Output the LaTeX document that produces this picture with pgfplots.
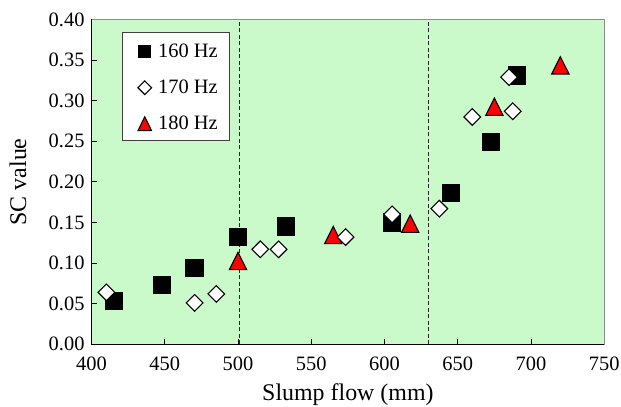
\documentclass[border=0pt]{standalone}
\usepackage{fontspec}
\setmainfont{Liberation Serif}
\usepackage{pgfplots}
\pgfplotsset{compat=1.18}
\definecolor{bgreen}{HTML}{CAFACA}
\definecolor{frame}{HTML}{8C8C8C}

% legend markers are a bit smaller than the plotted ones
\pgfplotsset{
  sqmark/.style={mark=square*, mark size=8.65bp, mark options={fill=black, draw=black, line width=1bp}},
  dimark/.style={mark=square*, mark size=5.9bp, mark options={fill=white, draw=black, line width=1.1bp, rotate=45}},
  trmark/.style={mark=triangle*, mark size=10bp, mark options={fill=red, draw=black, line width=1.1bp, yscale=1.15}},
}

\begin{document}
\begin{tikzpicture}
\begin{axis}[
  scale only axis, width=512.8bp, height=324.8bp,
  xmin=400, xmax=750, ymin=0, ymax=0.40,
  xtick={400,450,...,750}, ytick={0,0.05,...,0.40},
  yticklabel style={/pgf/number format/fixed, /pgf/number format/fixed zerofill, /pgf/number format/precision=2},
  /pgf/number format/assume math mode=true,
  tick label style={font=\fontsize{20.5}{24}\selectfont},
  xticklabel style={yshift=-9bp},
  yticklabel style={xshift=-3.5bp},
  tick align=inside, major tick length=5.5bp,
  tick style={black, line width=1bp},
  xtick pos=bottom, ytick pos=left,
  axis background/.style={fill=bgreen},
  axis line style={frame, line width=0.8bp},
  xlabel={Slump flow (mm)}, ylabel={SC value},
  label style={font=\fontsize{24}{28}\selectfont},
  xlabel style={at={(axis description cs:0.5,-0.174)}, anchor=base},
  ylabel style={at={(axis description cs:-0.1277,0.5)}, anchor=base},
  legend style={at={(axis description cs:0.0604,0.963)}, anchor=north west,
    draw=black!75, line width=0.8bp, fill=white,
    font=\fontsize{20.5}{24}\selectfont,
    inner xsep=12bp, inner ysep=9bp, row sep=18.2bp,
    nodes={inner sep=0pt, text height=16.3bp, text depth=1.3bp}},
  /tikz/every odd column/.append style={column sep=5.5bp},
]
% dashed dividers
\addplot[black!85, line width=0.8bp, dash pattern=on 4bp off 2.5bp, forget plot] coordinates {(501,0) (501,0.40)};
\addplot[black!85, line width=0.8bp, dash pattern=on 4bp off 2.5bp, forget plot] coordinates {(630,0) (630,0.40)};

\addlegendimage{legend image code/.code={
  \path (-9.5bp,0) (7.5bp,0);
  \draw[black, fill=black, line width=1bp] (-6.15bp,-8.2bp) rectangle (6.15bp,4.1bp);}}
\addlegendentry{160 Hz}
\addlegendimage{legend image code/.code={
  \path (-9.5bp,0) (7.5bp,0);
  \draw[black, fill=white, line width=1.1bp] (0,-9bp) -- (6.8bp,-2.2bp) -- (0,4.6bp) -- (-6.8bp,-2.2bp) -- cycle;}}
\addlegendentry{170 Hz}
\addlegendimage{legend image code/.code={
  \path (-9.5bp,0) (7.5bp,0);
  \draw[black, fill=red, line width=1.1bp, line join=miter] (0,5.3bp) -- (6.8bp,-8.6bp) -- (-6.8bp,-8.6bp) -- cycle;}}
\addlegendentry{180 Hz}

% 160 Hz
\addplot[only marks, sqmark, forget plot] coordinates {
  (415.5,0.053) (447.9,0.073) (470.4,0.094) (500.2,0.132) (532.7,0.145)
  (605.2,0.150) (645.2,0.186) (672.5,0.249) (690.2,0.331)
};
% 180 Hz
\addplot[only marks, trmark, forget plot] coordinates {
  (500.0,0.099) (565.0,0.131) (617.5,0.145) (675.0,0.289) (720.0,0.340)
};
% 170 Hz
\addplot[only marks, dimark, forget plot] coordinates {
  (410.2,0.064) (470.4,0.051) (485.2,0.062) (515.2,0.117) (527.7,0.117)
  (573.4,0.132) (605.2,0.160) (637.4,0.167) (659.9,0.280) (685.0,0.329)
  (687.5,0.287)
};
\end{axis}
% left and bottom axis lines in black
\draw[black, line width=1.2bp] (0,324.8bp) -- (0,0) -- (512.8bp,0);
\pgfresetboundingbox
\useasboundingbox (-91.5bp,-62.7bp) rectangle (529.5bp,344.3bp);
\end{tikzpicture}
\end{document}
